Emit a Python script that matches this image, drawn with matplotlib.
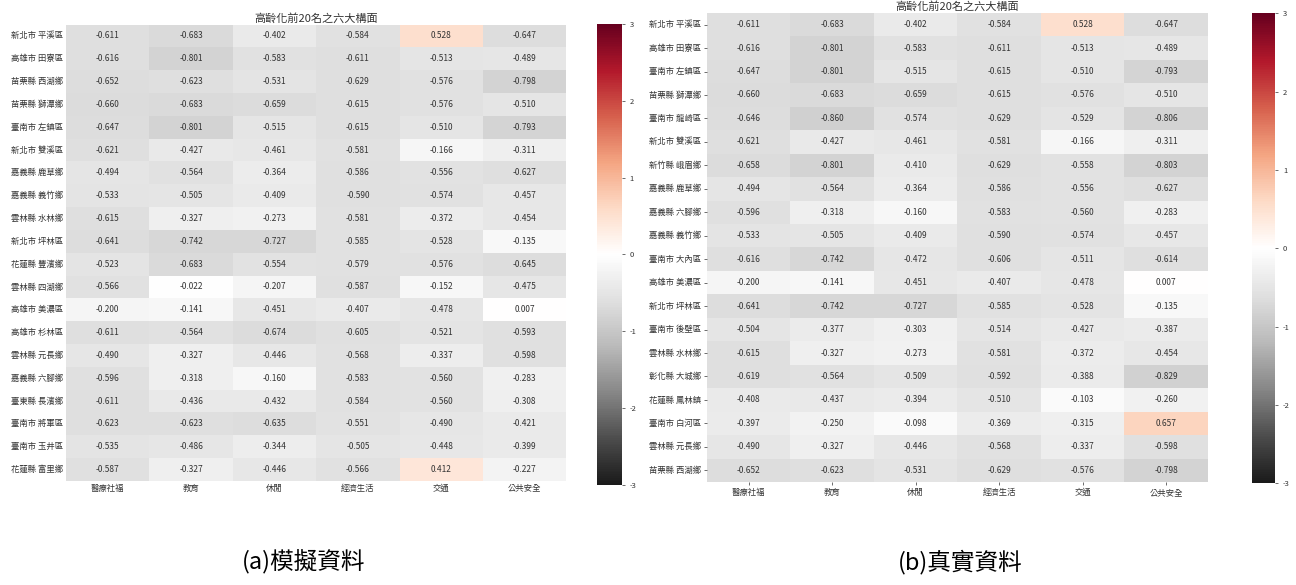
import numpy as np
import matplotlib
matplotlib.use("Agg")
import matplotlib.pyplot as plt
import seaborn as sns

plt.rcParams['font.family'] = ['Noto Sans CJK TC', 'DejaVu Sans']
plt.rcParams['axes.unicode_minus'] = False

aspects = ["醫療社福", "教育", "休閒", "經濟生活", "交通", "公共安全"]
title = "高齡化前20名之六大構面"

# (a) 模擬資料
sim_towns = ["新北市 平溪區", "高雄市 田寮區", "苗栗縣 西湖鄉", "苗栗縣 獅潭鄉", "臺南市 左鎮區",
             "新北市 雙溪區", "嘉義縣 鹿草鄉", "嘉義縣 義竹鄉", "雲林縣 水林鄉", "新北市 坪林區",
             "花蓮縣 豐濱鄉", "雲林縣 四湖鄉", "高雄市 美濃區", "高雄市 杉林區", "雲林縣 元長鄉",
             "嘉義縣 六腳鄉", "臺東縣 長濱鄉", "臺南市 將軍區", "臺南市 玉井區", "花蓮縣 富里鄉"]
sim_values = [
    [-0.611, -0.683, -0.402, -0.584, 0.528, -0.647],
    [-0.616, -0.801, -0.583, -0.611, -0.513, -0.489],
    [-0.652, -0.623, -0.531, -0.629, -0.576, -0.798],
    [-0.660, -0.683, -0.659, -0.615, -0.576, -0.510],
    [-0.647, -0.801, -0.515, -0.615, -0.510, -0.793],
    [-0.621, -0.427, -0.461, -0.581, -0.166, -0.311],
    [-0.494, -0.564, -0.364, -0.586, -0.556, -0.627],
    [-0.533, -0.505, -0.409, -0.590, -0.574, -0.457],
    [-0.615, -0.327, -0.273, -0.581, -0.372, -0.454],
    [-0.641, -0.742, -0.727, -0.585, -0.528, -0.135],
    [-0.523, -0.683, -0.554, -0.579, -0.576, -0.645],
    [-0.566, -0.022, -0.207, -0.587, -0.152, -0.475],
    [-0.200, -0.141, -0.451, -0.407, -0.478, 0.007],
    [-0.611, -0.564, -0.674, -0.605, -0.521, -0.593],
    [-0.490, -0.327, -0.446, -0.568, -0.337, -0.598],
    [-0.596, -0.318, -0.160, -0.583, -0.560, -0.283],
    [-0.611, -0.436, -0.432, -0.584, -0.560, -0.308],
    [-0.623, -0.623, -0.635, -0.551, -0.490, -0.421],
    [-0.535, -0.486, -0.344, -0.505, -0.448, -0.399],
    [-0.587, -0.327, -0.446, -0.566, 0.412, -0.227],
]

# (b) 真實資料
real_towns = ["新北市 平溪區", "高雄市 田寮區", "臺南市 左鎮區", "苗栗縣 獅潭鄉", "臺南市 龍崎區",
              "新北市 雙溪區", "新竹縣 峨眉鄉", "嘉義縣 鹿草鄉", "嘉義縣 六腳鄉", "嘉義縣 義竹鄉",
              "臺南市 大內區", "高雄市 美濃區", "新北市 坪林區", "臺南市 後壁區", "雲林縣 水林鄉",
              "彰化縣 大城鄉", "花蓮縣 鳳林鎮", "臺南市 白河區", "雲林縣 元長鄉", "苗栗縣 西湖鄉"]
real_values = [
    [-0.611, -0.683, -0.402, -0.584, 0.528, -0.647],
    [-0.616, -0.801, -0.583, -0.611, -0.513, -0.489],
    [-0.647, -0.801, -0.515, -0.615, -0.510, -0.793],
    [-0.660, -0.683, -0.659, -0.615, -0.576, -0.510],
    [-0.646, -0.860, -0.574, -0.629, -0.529, -0.806],
    [-0.621, -0.427, -0.461, -0.581, -0.166, -0.311],
    [-0.658, -0.801, -0.410, -0.629, -0.558, -0.803],
    [-0.494, -0.564, -0.364, -0.586, -0.556, -0.627],
    [-0.596, -0.318, -0.160, -0.583, -0.560, -0.283],
    [-0.533, -0.505, -0.409, -0.590, -0.574, -0.457],
    [-0.616, -0.742, -0.472, -0.606, -0.511, -0.614],
    [-0.200, -0.141, -0.451, -0.407, -0.478, 0.007],
    [-0.641, -0.742, -0.727, -0.585, -0.528, -0.135],
    [-0.504, -0.377, -0.303, -0.514, -0.427, -0.387],
    [-0.615, -0.327, -0.273, -0.581, -0.372, -0.454],
    [-0.619, -0.564, -0.509, -0.592, -0.388, -0.829],
    [-0.408, -0.437, -0.394, -0.510, -0.103, -0.260],
    [-0.397, -0.250, -0.098, -0.369, -0.315, 0.657],
    [-0.490, -0.327, -0.446, -0.568, -0.337, -0.598],
    [-0.652, -0.623, -0.531, -0.629, -0.576, -0.798],
]

fig = plt.figure(figsize=(12.96, 5.85), dpi=100)

panels = [
    (sim_values, sim_towns, [0.051, 0.178, 0.386, 0.780], [0.461, 0.171, 0.019, 0.788], 0, "(a)模擬資料", 0.234),
    (real_values, real_towns, [0.5455, 0.176, 0.3866, 0.802], [0.966, 0.174, 0.018, 0.803], 2.5, "(b)真實資料", 0.741),
]

for values, towns, hm_rect, cb_rect, tick_len, caption, cap_x in panels:
    ax = fig.add_axes(hm_rect)
    cax = fig.add_axes(cb_rect)
    sns.heatmap(np.array(values), ax=ax, cbar_ax=cax, cmap="RdGy_r", vmin=-3, vmax=3,
                annot=True, fmt=".3f", annot_kws={"fontsize": 6, "color": "#333333"},
                xticklabels=aspects, yticklabels=towns)
    ax.set_title(title, fontsize=8, color="#333333", pad=2)
    ax.tick_params(axis="both", labelsize=6, length=tick_len, width=0.6,
                   colors="#555555", labelcolor="#333333", pad=2)
    ax.set_yticklabels(towns, rotation=0)
    ax.set_xticklabels(aspects, rotation=0)
    cax.tick_params(labelsize=5.5, length=2, width=0.6, colors="#555555", labelcolor="#333333")
    cax.set_yticks([-3, -2, -1, 0, 1, 2, 3])
    for sp in cax.spines.values():
        sp.set_visible(False)
    fig.text(cap_x, 0.039, caption, fontsize=17, ha="center", va="center", color="black")

fig.savefig("out.png", dpi=100)
